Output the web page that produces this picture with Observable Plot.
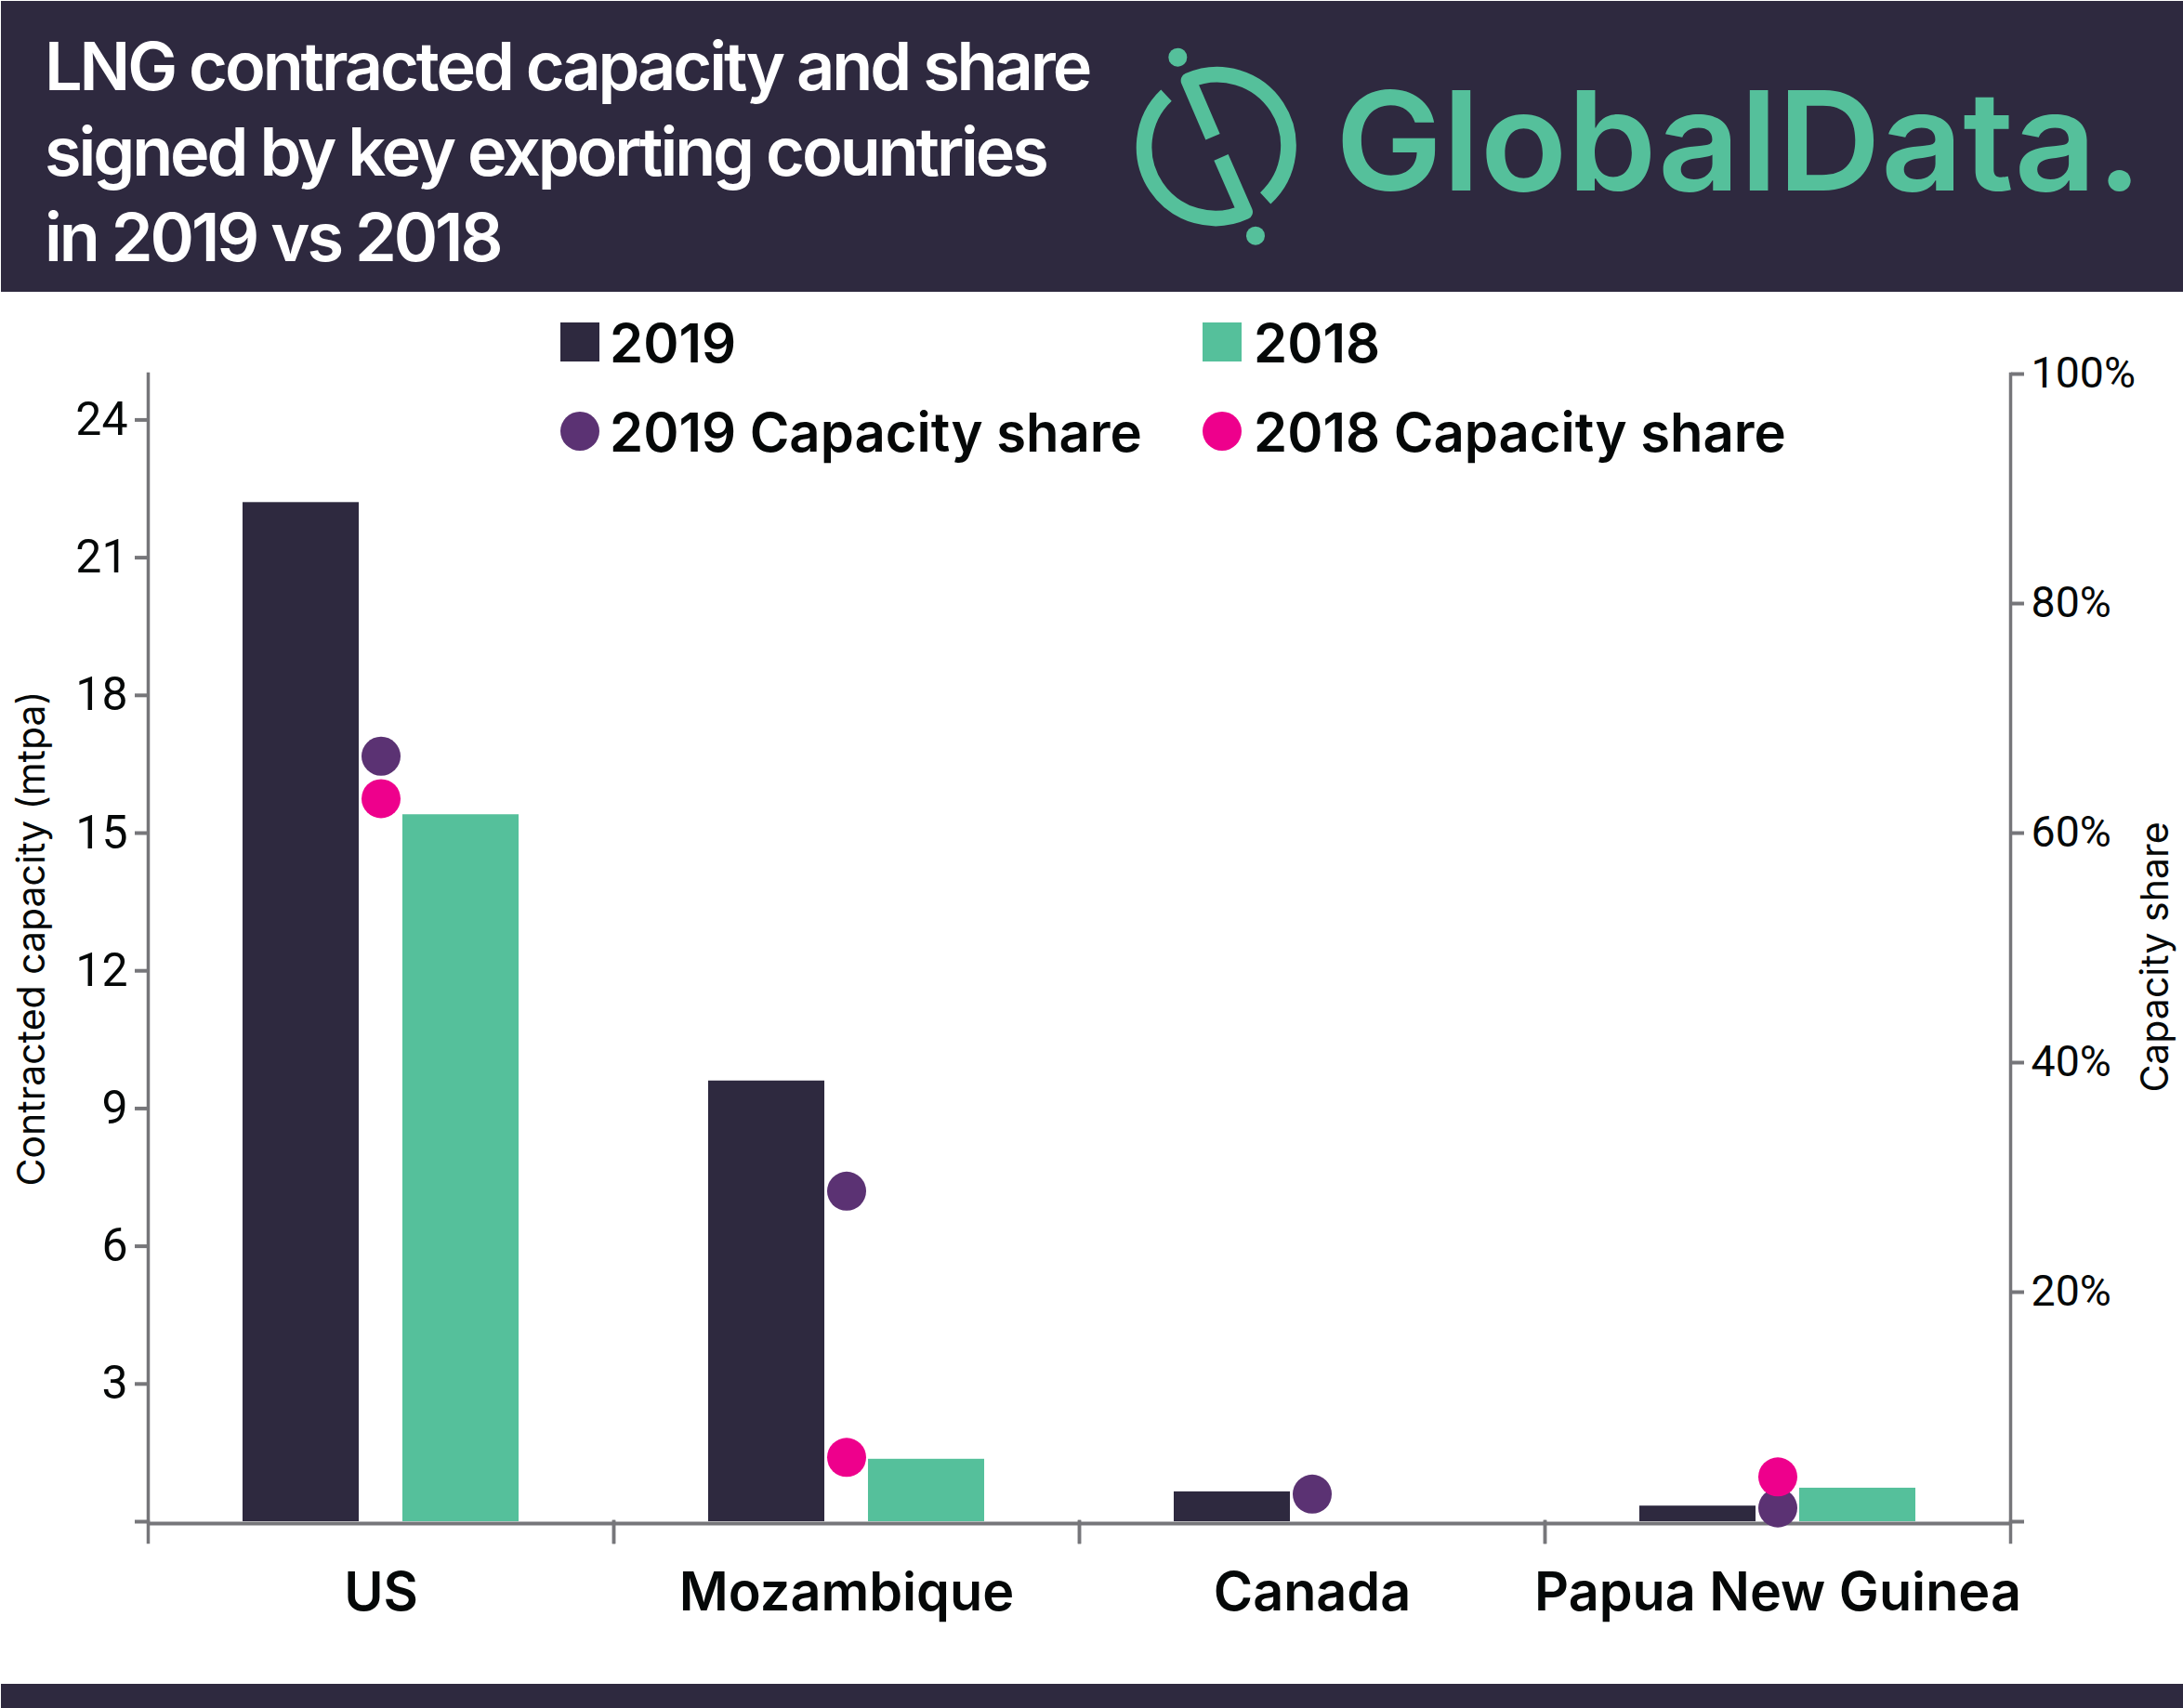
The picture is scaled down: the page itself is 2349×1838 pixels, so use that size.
<!DOCTYPE html>
<html>
<head>
<meta charset="utf-8">
<script src="https://cdn.jsdelivr.net/npm/d3@7"></script>
<script src="https://cdn.jsdelivr.net/npm/@observablehq/plot@0.6"></script>
<style>
html,body{margin:0;padding:0;background:#fff;overflow:hidden}
body{position:relative;width:2349px;height:1838px;font-family:Inter,Roboto,sans-serif;color:#050808}
#header{position:absolute;left:1px;top:1px;width:2348px;height:313px;background:#2e293f}
#title{position:absolute;left:47px;top:24px;color:#fff;font-size:72px;font-weight:600;line-height:92px;letter-spacing:-3.1px;white-space:pre}
#logo{position:absolute;left:0;top:0}
#chart{position:absolute;left:0;top:314px}
#footer{position:absolute;left:1px;top:1812px;width:2348px;height:26px;background:#2e293f}
.lg{position:absolute;font-size:58px;font-weight:600;line-height:58px;white-space:pre}
.sw{position:absolute;width:42px;height:42px}
</style>
</head>
<body>
<div id="header">
<div id="title"></div>
</div>
<svg id="logo" width="2349" height="314" xmlns="http://www.w3.org/2000/svg">
  <g transform="translate(1200,30) scale(0.3333)" fill="none" stroke="#55c09b" stroke-width="50" stroke-linejoin="round" stroke-linecap="butt">
    <path d="M315 352 L237 170 A230 230 0 0 1 485 550"/>
    <path d="M342 418 L419 594 A230 230 0 0 1 165 218"/>
    <circle cx="202" cy="95" r="30" fill="#55c09b" stroke="none"/>
    <circle cx="453" cy="671" r="30" fill="#55c09b" stroke="none"/>
  </g>
  <text x="1437" y="205" font-family="Inter" font-weight="600" font-size="148" fill="#55c09b" textLength="868" lengthAdjust="spacingAndGlyphs">GlobalData.</text>
</svg>
<div id="chart"></div>
<div id="legend"></div>
<div id="footer"></div>
<script>
const titleLines = ["LNG contracted capacity and share", "signed by key exporting countries", "in 2019 vs 2018"];
const countries = ["US", "Mozambique", "Canada", "Papua New Guinea"];
const capacity2019 = [22.2, 9.6, 0.65, 0.34];
const capacity2018 = [15.4, 1.36, null, 0.73];
const share2019 = [66.7, 28.8, 2.4, 1.2];
const share2018 = [63, 5.6, null, 3.9];
const seriesNames = ["2019", "2018", "2019 Capacity share", "2018 Capacity share"];
const seriesColors = ["#2e293f", "#55c09b", "#5b3273", "#ee008c"];
const capTicks = [0, 3, 6, 9, 12, 15, 18, 21, 24];
const shareTicks = [0, 20, 40, 60, 80, 100];
const capMax = 25, shareMax = 100;
const toCap = capMax / shareMax;

document.getElementById("title").textContent = titleLines.join("\n");

const barRows = [
  ...countries.map((country, i) => ({country, series: "2019", value: capacity2019[i]})),
  ...countries.map((country, i) => ({country, series: "2018", value: capacity2018[i]}))
].filter(d => d.value != null);
const dotRows = [
  ...countries.map((country, i) => ({country, series: "2019 Capacity share", value: share2019[i]})),
  ...countries.map((country, i) => ({country, series: "2018 Capacity share", value: share2018[i]}))
].filter(d => d.value != null);

const grey = "#76767a", ink = "#050808", font = "Inter, Roboto, sans-serif", tickFont = "Roboto, sans-serif";
const plotH = 1235;

const chart = Plot.plot({
  width: 2349, height: 1498,
  marginLeft: 159, marginRight: 186, marginTop: 88, marginBottom: 175,
  style: {fontFamily: font, background: "transparent", color: ink, overflow: "visible"},
  fx: {domain: countries, padding: 0, round: false, axis: null},
  x: {domain: ["2019", "2018"], paddingInner: 0.273, paddingOuter: 0.593, round: false, axis: null},
  y: {domain: [0, capMax], axis: null},
  color: {domain: seriesNames, range: seriesColors},
  marks: [
    Plot.barY(barRows, {fx: "country", x: "series", y: "value", fill: "series"}),
    Plot.ruleY([0], {stroke: grey, strokeWidth: 4, dy: 2}),
    Plot.frame({anchor: "left", fx: () => countries[0], stroke: grey, strokeWidth: 3.5}),
    Plot.frame({anchor: "right", fx: () => countries[3], stroke: grey, strokeWidth: 3.5}),
    Plot.frame({anchor: "left", insetTop: plotH, insetBottom: -22, stroke: grey, strokeWidth: 3.5}),
    Plot.frame({anchor: "right", insetTop: plotH, insetBottom: -22, stroke: grey, strokeWidth: 3.5}),
    Plot.axisY({anchor: "left", ticks: capTicks, tickFormat: d => d === 0 ? "" : d, tickSize: 14, tickPadding: 8, stroke: grey, strokeWidth: 4, fill: ink, fontSize: 50, fontFamily: tickFont, fontVariant: "normal", label: null}),
    Plot.axisY({anchor: "right", ticks: shareTicks.map(d => d * toCap), tickFormat: d => d === 0 ? "" : Math.round(d / toCap) + "%", tickSize: 14, tickPadding: 8, stroke: grey, strokeWidth: 4, fill: ink, fontSize: 46.5, fontFamily: tickFont, fontVariant: "normal", label: null}),
    Plot.axisFx({anchor: "bottom", tickSize: 0, tickPadding: 55, fontSize: 57.5, fontWeight: 600, fill: ink, label: null}),
    Plot.text(["Contracted capacity (mtpa)"], {fx: () => countries[0], text: d => d, frameAnchor: "left", textAnchor: "middle", rotate: -90, dx: -125, dy: -10, fontSize: 41, fill: ink}),
    Plot.text(["Capacity share"], {fx: () => countries[3], text: d => d, frameAnchor: "right", textAnchor: "middle", rotate: -90, dx: 156, dy: 10, fontSize: 41, fill: ink}),
    Plot.dot(dotRows, {fx: "country", y: d => d.value * toCap, r: 21, fill: "series"})
  ]
});
document.getElementById("chart").appendChild(chart);

const legend = document.getElementById("legend");
const legendSpots = [[603, 368, 656], [1294, 368, 1349], [603, 464, 656], [1294, 464, 1349]];
seriesNames.forEach((name, i) => {
  const [sx, cy, tx] = legendSpots[i];
  const sw = document.createElement("div");
  sw.className = "sw";
  sw.style.cssText = `left:${sx}px;top:${cy - 21}px;background:${seriesColors[i]};border-radius:${i > 1 ? "50%" : "0"}`;
  const t = document.createElement("div");
  t.className = "lg";
  t.style.cssText = `left:${tx}px;top:${cy - 28}px`;
  t.textContent = name;
  legend.append(sw, t);
});
</script>
</body>
</html>
